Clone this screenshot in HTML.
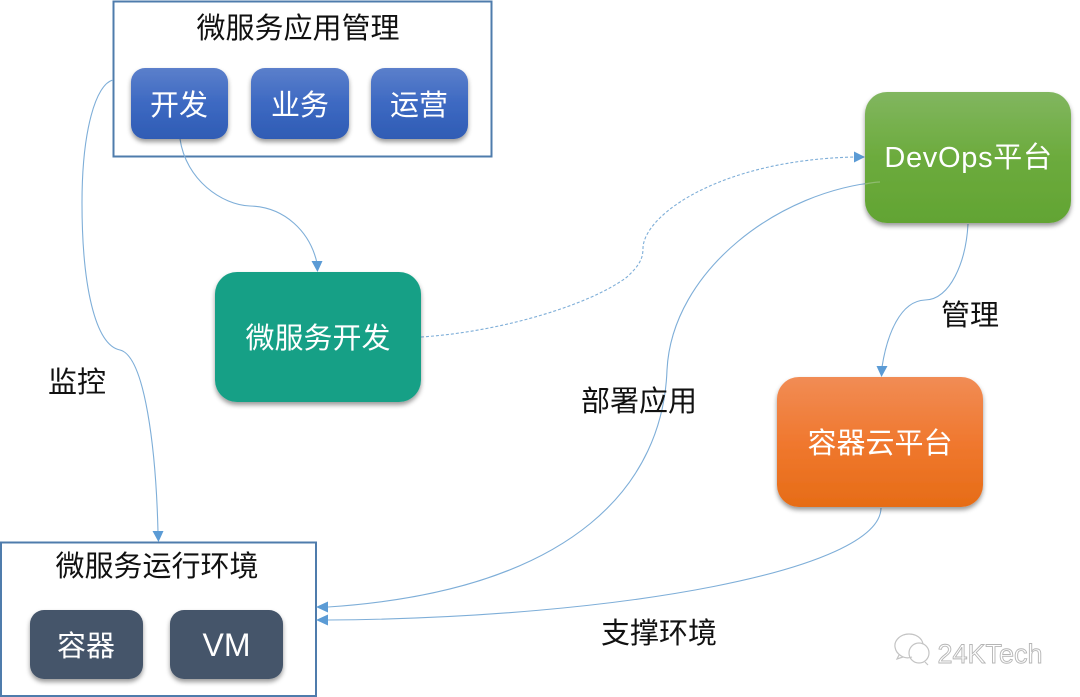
<!DOCTYPE html>
<html><head><meta charset="utf-8"><style>
html,body{margin:0;padding:0;background:#fff}
svg{display:block}
text{font-family:"Liberation Sans","Noto Sans CJK SC",sans-serif;font-size:29px;text-anchor:middle}
.w{fill:#fff}.k{fill:#111}
.c{fill:none;stroke:#7eaed8;stroke-width:1.1}
.a{fill:#5b9bd5}
</style></head><body>
<svg width="1080" height="697" viewBox="0 0 1080 697" xmlns="http://www.w3.org/2000/svg">
<defs>
<filter id="s" x="-15%" y="-15%" width="130%" height="135%"><feDropShadow dx="0" dy="3" stdDeviation="2.5" flood-color="#000" flood-opacity=".4"/></filter>
<linearGradient id="b" x1="0" y1="0" x2="0" y2="1"><stop offset="0" stop-color="#5b7fcb"/><stop offset=".5" stop-color="#3d69c2"/><stop offset="1" stop-color="#2f5cb4"/></linearGradient>
<linearGradient id="g" x1="0" y1="0" x2="0" y2="1"><stop offset="0" stop-color="#81b65f"/><stop offset=".5" stop-color="#6cab3d"/><stop offset="1" stop-color="#62a433"/></linearGradient>
<linearGradient id="o" x1="0" y1="0" x2="0" y2="1"><stop offset="0" stop-color="#f18c55"/><stop offset=".5" stop-color="#f0782f"/><stop offset="1" stop-color="#e66c16"/></linearGradient>
</defs>
<rect width="1080" height="697" fill="#fff"/>
<rect x="113.500" y="1.500" width="378" height="155" fill="#fff" stroke="#4f7cac" stroke-width="2"/>
<rect x="1" y="542.500" width="315" height="153.500" fill="#fff" stroke="#4f7cac" stroke-width="2"/>

<path class="c" d="M113 80C96 84 82 130 82 203C82 285 95 345 120 350C145 356 156 450 158 532"/>
<path class="a" d="M152.500 531L163.500 531L158.500 542Z"/>
<path class="c" d="M180 139C186 180 222 205 250 206C285 207 310 232 317 263"/>
<path class="a" d="M311.500 261L322.500 261L317.500 272Z"/>
<path class="c" stroke-dasharray="3 2" d="M421 337C500 332 590 305 627 277C640 265 643 258 643 248C644 215 720 160 855 157"/>
<path class="a" d="M854 151.500L865 157L854 162.500Z"/>
<path class="c" d="M880 182C780 190 672 270 667 370C663 480 580 590 328 607"/>
<path class="a" d="M328 601.500L316 607L328 612.500Z"/>
<path class="c" d="M968 224C966 262 950 300 925 300C900 301 887 335 882 367"/>
<path class="a" d="M876.500 366L887.500 366L881.500 377Z"/>
<path class="c" d="M881 508C880 570 620 618 328 620"/>
<path class="a" d="M328 614.500L316 620L328 625.500Z"/>

<g filter="url(#s)">
<rect x="131" y="68" width="97" height="71" rx="14" fill="url(#b)"/>
<rect x="251" y="68" width="98" height="71" rx="14" fill="url(#b)"/>
<rect x="371" y="68" width="97" height="71" rx="14" fill="url(#b)"/>
<rect x="215" y="272" width="206" height="130" rx="22" fill="#17a086"/>
<rect x="865" y="92" width="206" height="131" rx="22" fill="url(#g)"/>
<rect x="777" y="377" width="206" height="130" rx="22" fill="url(#o)"/>
<rect x="30" y="610" width="113" height="69" rx="14" fill="#44546a"/>
<rect x="170" y="610" width="113" height="69" rx="14" fill="#44546a"/>
</g>
<path d="M865 184C870 183 875 182 880 182" fill="none" stroke="#8fbb70" stroke-width="1.2"/>

<text class="k" x="298" y="38">微服务应用管理</text>
<text class="k" x="157" y="576">微服务运行环境</text>
<text class="w" x="179" y="115">开发</text>
<text class="w" x="300" y="115">业务</text>
<text class="w" x="419" y="115">运营</text>
<text class="w" x="318" y="348">微服务开发</text>
<text class="w" x="968.500" y="167" letter-spacing=".7">DevOps平台</text>
<text class="w" x="880" y="453">容器云平台</text>
<text class="w" x="86" y="656">容器</text>
<text class="w" x="226.500" y="656" style="font-size:32px">VM</text>
<text class="k" x="77" y="392">监控</text>
<text class="k" x="970" y="325">管理</text>
<text class="k" x="639" y="411">部署应用</text>
<text class="k" x="659" y="643">支撑环境</text>

<g fill="none" stroke="#c4c4c4" stroke-width="1.2">
<path d="M912 657C904 660 896 654 895 647C894 640 901 634 909 634C916 634 922 638 923 644"/>
<path d="M899 655L897 659L903 657"/>
<circle cx="919" cy="653" r="10"/>
<path d="M925 662L928 665"/>
</g>
<text x="990" y="663" style="font-size:27px;fill:#fff;stroke:#b5b5b5;stroke-width:.9">24KTech</text>
</svg>
</body></html>
